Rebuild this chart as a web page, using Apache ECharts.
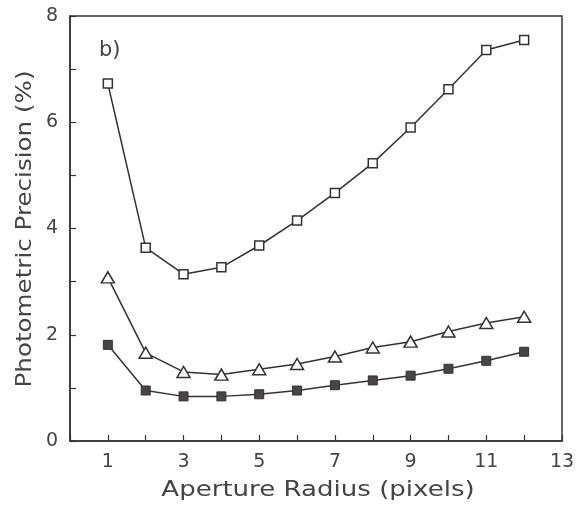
<!DOCTYPE html>
<html>
<head>
<meta charset="utf-8">
<script src="https://cdn.jsdelivr.net/npm/echarts@6/dist/echarts.min.js"></script>
<style>
html,body{margin:0;padding:0;background:#fff;}
#chart{width:579px;height:507px;}
</style>
</head>
<body>
<div id="chart"></div>
<script>
const radius = [1, 2, 3, 4, 5, 6, 7, 8, 9, 10, 11, 12];
const precisionOpenSquare = [6.73, 3.64, 3.14, 3.27, 3.68, 4.15, 4.67, 5.23, 5.90, 6.62, 7.36, 7.55];
const precisionTriangle = [3.08, 1.66, 1.30, 1.25, 1.35, 1.45, 1.59, 1.76, 1.87, 2.06, 2.22, 2.34];
const precisionFilledSquare = [1.81, 0.95, 0.84, 0.84, 0.88, 0.95, 1.05, 1.14, 1.23, 1.36, 1.51, 1.68];
const xTickLabels = [1, 3, 5, 7, 9, 11, 13];
const yTickLabels = [0, 2, 4, 6, 8];
const panelLabel = 'b)';
const xTitle = 'Aperture Radius (pixels)';
const yTitle = 'Photometric Precision (%)';

const ink = '#333';
const textInk = '#444';
const font = 'DejaVu Sans';

function pairs(ys) { return radius.map((x, i) => [x, ys[i]]); }

const chart = echarts.init(document.getElementById('chart'), null, {renderer: 'canvas'});
chart.setOption({
  animation: false,
  backgroundColor: '#fff',
  grid: {left: 70, right: 17, top: 16, bottom: 66, show: true, borderColor: ink, borderWidth: 1.5, backgroundColor: 'transparent'},
  xAxis: {
    type: 'value', min: 0, max: 13, interval: 1,
    axisLine: {lineStyle: {color: ink, width: 1.5}},
    axisTick: {inside: true, length: 6, lineStyle: {color: ink, width: 1.2}},
    axisLabel: {fontFamily: font, fontSize: 19, color: textInk, margin: 12,
      formatter: v => xTickLabels.indexOf(v) >= 0 ? String(v) : ''},
    splitLine: {show: false}
  },
  yAxis: {
    type: 'value', min: 0, max: 8, interval: 1,
    axisLine: {lineStyle: {color: ink, width: 1.5}},
    axisTick: {inside: true, length: 6, lineStyle: {color: ink, width: 1.2}},
    axisLabel: {fontFamily: font, fontSize: 19, color: textInk, margin: 12,
      formatter: v => yTickLabels.indexOf(v) >= 0 ? String(v) : ''},
    splitLine: {show: false}
  },
  graphic: [
    {type: 'text', left: 99, top: 40,
     style: {text: panelLabel, font: '21px "DejaVu Sans"', fill: textInk}},
    {type: 'text', x: 318, y: 491, scaleX: 1.24,
     style: {text: xTitle, font: '21px "DejaVu Sans"', fill: textInk, align: 'center', verticalAlign: 'middle'}},
    {type: 'text', x: 26, y: 229, rotation: Math.PI / 2, scaleX: 1.17,
     style: {text: yTitle, font: '21px "DejaVu Sans"', fill: textInk, align: 'center', verticalAlign: 'middle'}}
  ],
  series: [
    {type: 'line', data: pairs(precisionOpenSquare), symbol: 'rect', symbolSize: 9,
     lineStyle: {color: ink, width: 1.5}, itemStyle: {color: '#fff', borderColor: ink, borderWidth: 1.5}},
    {type: 'line', data: pairs(precisionTriangle), symbol: 'triangle', symbolSize: [13, 11],
     lineStyle: {color: ink, width: 1.5}, itemStyle: {color: '#fff', borderColor: ink, borderWidth: 1.5}},
    {type: 'line', data: pairs(precisionFilledSquare), symbol: 'rect', symbolSize: 9,
     lineStyle: {color: ink, width: 1.5}, itemStyle: {color: '#4a4446', borderColor: ink, borderWidth: 1}}
  ]
});
</script>
</body>
</html>
